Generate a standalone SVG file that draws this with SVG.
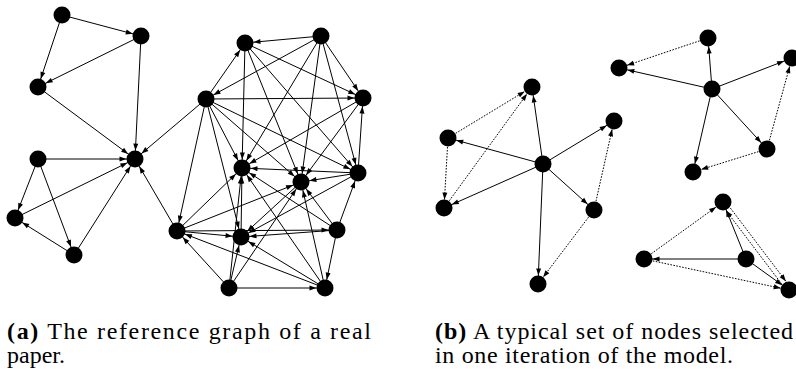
<svg xmlns="http://www.w3.org/2000/svg" width="796" height="369" viewBox="0 0 796 369">
<style>
.e{stroke:#000;stroke-width:1;fill:none;marker-end:url(#ah)}
.d{stroke:#000;stroke-width:1;fill:none;stroke-dasharray:1.6 1.4;marker-end:url(#ah)}
.n{fill:#000}
.cap{font-family:"Liberation Serif","DejaVu Serif",serif;font-size:24px;fill:#000}
.b{font-weight:bold}
</style>
<defs>
<marker id="ah" markerUnits="userSpaceOnUse" markerWidth="8" markerHeight="6" refX="15.5" refY="3" orient="auto" overflow="visible">
<path d="M0,0.5 L7,3 L0,5.5 z" fill="#000"/>
</marker>
</defs>
<g id="connectors">
<!-- left graph -->
<line class="e" x1="62" y1="15" x2="141" y2="36"/>
<line class="e" x1="62" y1="15" x2="38" y2="87"/>
<line class="e" x1="141" y1="36" x2="38" y2="87"/>
<line class="e" x1="141" y1="36" x2="135" y2="159"/>
<line class="e" x1="38" y1="87" x2="135" y2="159"/>
<line class="e" x1="38" y1="159" x2="135" y2="159"/>
<line class="e" x1="38" y1="159" x2="15" y2="218"/>
<line class="e" x1="38" y1="159" x2="74" y2="255"/>
<line class="e" x1="15" y1="218" x2="135" y2="159"/>
<line class="e" x1="74" y1="255" x2="15" y2="218"/>
<line class="e" x1="74" y1="255" x2="135" y2="159"/>
<line class="e" x1="206" y1="99" x2="135" y2="159"/>
<line class="e" x1="177" y1="231" x2="135" y2="159"/>
<!-- cluster -->
<line class="e" x1="321" y1="36" x2="245" y2="43"/>
<line class="e" x1="206" y1="99" x2="245" y2="43"/>
<line class="e" x1="321" y1="36" x2="206" y2="99"/>
<line class="e" x1="206" y1="99" x2="363" y2="98"/>
<line class="e" x1="245" y1="43" x2="363" y2="98"/>
<line class="e" x1="321" y1="36" x2="363" y2="98"/>
<line class="e" x1="358" y1="173" x2="363" y2="98"/>
<line class="e" x1="245" y1="43" x2="242" y2="168"/>
<line class="e" x1="245" y1="43" x2="301" y2="182"/>
<line class="e" x1="245" y1="43" x2="358" y2="173"/>
<line class="e" x1="321" y1="36" x2="242" y2="168"/>
<line class="e" x1="321" y1="36" x2="301" y2="182"/>
<line class="e" x1="321" y1="36" x2="358" y2="173"/>
<line class="e" x1="363" y1="98" x2="242" y2="168"/>
<line class="e" x1="363" y1="98" x2="301" y2="182"/>
<line class="e" x1="206" y1="99" x2="242" y2="168"/>
<line class="e" x1="206" y1="99" x2="301" y2="182"/>
<line class="e" x1="206" y1="99" x2="358" y2="173"/>
<line class="e" x1="206" y1="99" x2="177" y2="231"/>
<line class="e" x1="206" y1="99" x2="241" y2="237"/>
<line class="e" x1="358" y1="173" x2="242" y2="168"/>
<line class="e" x1="358" y1="173" x2="301" y2="182"/>
<line class="e" x1="358" y1="173" x2="241" y2="237"/>
<line class="e" x1="337" y1="230" x2="242" y2="168"/>
<line class="e" x1="337" y1="230" x2="301" y2="182"/>
<line class="e" x1="337" y1="230" x2="358" y2="173"/>
<line class="e" x1="337" y1="230" x2="241" y2="237"/>
<line class="e" x1="337" y1="230" x2="325" y2="288"/>
<line class="e" x1="177" y1="231" x2="242" y2="168"/>
<line class="e" x1="177" y1="231" x2="301" y2="182"/>
<line class="e" x1="177" y1="231" x2="241" y2="237"/>
<line class="e" x1="177" y1="231" x2="337" y2="230"/>
<line class="e" x1="241" y1="237" x2="242" y2="168"/>
<line class="e" x1="301" y1="182" x2="241" y2="237"/>
<line class="e" x1="229" y1="288" x2="242" y2="168"/>
<line class="e" x1="229" y1="288" x2="301" y2="182"/>
<line class="e" x1="229" y1="288" x2="177" y2="231"/>
<line class="e" x1="229" y1="288" x2="241" y2="237"/>
<line class="e" x1="229" y1="288" x2="325" y2="288"/>
<line class="e" x1="325" y1="288" x2="242" y2="168"/>
<line class="e" x1="325" y1="288" x2="301" y2="182"/>
<line class="e" x1="325" y1="288" x2="177" y2="231"/>
<line class="e" x1="325" y1="288" x2="241" y2="237"/>
<!-- (b) star 1 -->
<line class="e" x1="543" y1="164" x2="532" y2="87"/>
<line class="e" x1="543" y1="164" x2="448" y2="138"/>
<line class="e" x1="543" y1="164" x2="444" y2="208"/>
<line class="e" x1="543" y1="164" x2="614" y2="121"/>
<line class="e" x1="543" y1="164" x2="594" y2="210"/>
<line class="e" x1="543" y1="164" x2="538" y2="284"/>
<line class="d" x1="448" y1="138" x2="532" y2="87"/>
<line class="d" x1="448" y1="138" x2="444" y2="208"/>
<line class="d" x1="444" y1="208" x2="532" y2="87"/>
<line class="d" x1="594" y1="210" x2="614" y2="121"/>
<line class="d" x1="594" y1="210" x2="538" y2="284"/>
<!-- (b) star 2 -->
<line class="e" x1="712" y1="89" x2="708" y2="38"/>
<line class="e" x1="712" y1="89" x2="619" y2="68"/>
<line class="e" x1="712" y1="89" x2="792" y2="58"/>
<line class="e" x1="712" y1="89" x2="693" y2="172"/>
<line class="e" x1="712" y1="89" x2="767" y2="149"/>
<line class="d" x1="708" y1="38" x2="619" y2="68"/>
<line class="d" x1="767" y1="149" x2="792" y2="58"/>
<line class="d" x1="767" y1="149" x2="693" y2="172"/>
<!-- (b) triangle -->
<line class="e" x1="746" y1="259" x2="723" y2="202"/>
<line class="e" x1="746" y1="259" x2="644" y2="259"/>
<line class="e" x1="746" y1="259" x2="789" y2="290"/>
<line class="d" x1="644" y1="259" x2="723" y2="202"/>
<line class="d" x1="725" y1="201" x2="791" y2="288"/>
<line class="d" x1="787" y1="291" x2="721" y2="204"/>
<line class="d" x1="644" y1="259" x2="789" y2="290"/>
</g>
<g id="nA"><circle class="n" cx="62" cy="15" r="8.5"/></g>
<g id="nB"><circle class="n" cx="141" cy="36" r="8.5"/></g>
<g id="nC"><circle class="n" cx="38" cy="87" r="8.5"/></g>
<g id="nD"><circle class="n" cx="135" cy="159" r="8.5"/></g>
<g id="nE"><circle class="n" cx="38" cy="159" r="8.5"/></g>
<g id="nF"><circle class="n" cx="15" cy="218" r="8.5"/></g>
<g id="nG"><circle class="n" cx="74" cy="255" r="8.5"/></g>
<g id="n1"><circle class="n" cx="245" cy="43" r="8.5"/></g>
<g id="n2"><circle class="n" cx="321" cy="36" r="8.5"/></g>
<g id="n3"><circle class="n" cx="206" cy="99" r="8.5"/></g>
<g id="n4"><circle class="n" cx="363" cy="98" r="8.5"/></g>
<g id="n5"><circle class="n" cx="242" cy="168" r="8.5"/></g>
<g id="n6"><circle class="n" cx="301" cy="182" r="8.5"/></g>
<g id="n7"><circle class="n" cx="358" cy="173" r="8.5"/></g>
<g id="n8"><circle class="n" cx="177" cy="231" r="8.5"/></g>
<g id="n9"><circle class="n" cx="241" cy="237" r="8.5"/></g>
<g id="n10"><circle class="n" cx="337" cy="230" r="8.5"/></g>
<g id="n11"><circle class="n" cx="229" cy="288" r="8.5"/></g>
<g id="n12"><circle class="n" cx="325" cy="288" r="8.5"/></g>
<g id="p1"><circle class="n" cx="532" cy="87" r="8.5"/></g>
<g id="p2"><circle class="n" cx="448" cy="138" r="8.5"/></g>
<g id="p3"><circle class="n" cx="543" cy="164" r="8.5"/></g>
<g id="p4"><circle class="n" cx="444" cy="208" r="8.5"/></g>
<g id="p5"><circle class="n" cx="614" cy="121" r="8.5"/></g>
<g id="p6"><circle class="n" cx="594" cy="210" r="8.5"/></g>
<g id="p7"><circle class="n" cx="538" cy="284" r="8.5"/></g>
<g id="q1"><circle class="n" cx="708" cy="38" r="8.5"/></g>
<g id="q2"><circle class="n" cx="619" cy="68" r="8.5"/></g>
<g id="q3"><circle class="n" cx="712" cy="89" r="8.5"/></g>
<g id="q4"><circle class="n" cx="792" cy="58" r="8.5"/></g>
<g id="q5"><circle class="n" cx="767" cy="149" r="8.5"/></g>
<g id="q6"><circle class="n" cx="693" cy="172" r="8.5"/></g>
<g id="r1"><circle class="n" cx="723" cy="202" r="8.5"/></g>
<g id="r2"><circle class="n" cx="644" cy="259" r="8.5"/></g>
<g id="r3"><circle class="n" cx="746" cy="259" r="8.5"/></g>
<g id="r4"><circle class="n" cx="789" cy="290" r="8.5"/></g>
<g id="captions">
<text class="cap" x="7" y="339" textLength="364" lengthAdjust="spacing"><tspan class="b">(a)</tspan> The reference graph of a real</text>
<text class="cap" x="7" y="363">paper.</text>
<text class="cap" x="435" y="339" textLength="358" lengthAdjust="spacing"><tspan class="b">(b)</tspan> A typical set of nodes selected</text>
<text class="cap" x="435" y="363" textLength="298" lengthAdjust="spacing">in one iteration of the model.</text>
</g>
</svg>
